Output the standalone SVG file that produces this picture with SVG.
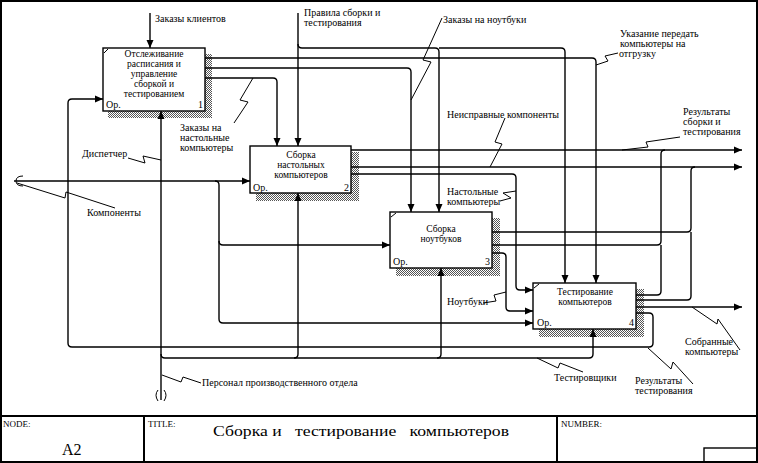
<svg xmlns="http://www.w3.org/2000/svg" width="758" height="463" viewBox="0 0 758 463">
<style>
.t{font-family:"Liberation Serif",serif;font-size:10px;fill:#000}
.tc{font-family:"Liberation Serif",serif;font-size:9.5px;fill:#000;text-anchor:middle}
.box{fill:#fff;stroke:#000;stroke-width:1.4}
.sh{fill:url(#hatch)}
.c{fill:none;stroke:#000;stroke-width:1.4}
.ca{fill:none;stroke:#000;stroke-width:1.4;marker-end:url(#arr)}
.sq{fill:none;stroke:#000;stroke-width:1}
.fr{fill:none;stroke:#000;stroke-width:2}
.small{font-family:"Liberation Serif",serif;font-size:9px;fill:#000}
</style>
<defs>
<pattern id="hatch" width="2" height="2" patternUnits="userSpaceOnUse">
<rect x="0" y="0" width="1" height="1" fill="#555"/>
<rect x="1" y="1" width="1" height="1" fill="#555"/>
</pattern>
<marker id="arr" viewBox="0 0 8 8" refX="8" refY="4" markerWidth="8" markerHeight="8" markerUnits="userSpaceOnUse" orient="auto">
<path d="M0,0.5 L8,4 L0,7.5 z" fill="#000"/>
</marker>
</defs>
<rect x="0" y="0" width="758" height="463" fill="#fff"/>

<g id="frame">
<rect class="fr" x="1" y="1" width="756" height="461"/>
<line class="fr" x1="1" y1="416" x2="757" y2="416"/>
<line class="fr" x1="144" y1="416" x2="144" y2="462"/>
<line class="fr" x1="557" y1="416" x2="557" y2="462"/>
<rect x="704" y="448" width="53" height="14" fill="none" stroke="#000" stroke-width="1.4"/>
<text class="small" x="3" y="427">NODE:</text>
<text x="62" y="455" font-family="Liberation Serif,serif" font-size="16">A2</text>
<text class="small" x="148" y="427">TITLE:</text>
<text x="213" y="436" font-family="Liberation Serif,serif" font-size="14" xml:space="preserve" textLength="296" lengthAdjust="spacingAndGlyphs">Сборка и   тестирование   компьютеров</text>
<text class="small" x="561" y="427">NUMBER:</text>
</g>

<g id="node1">
<rect class="sh" x="205" y="54" width="7" height="64"/>
<rect class="sh" x="108" y="111" width="104" height="7"/>
<rect class="box" x="103" y="48" width="102" height="63"/>
<line x1="104" y1="53" x2="108" y2="49" stroke="#000" stroke-width="1"/>
<text class="tc" x="154" y="57">Отслеживание</text>
<text class="tc" x="154" y="67">расписания и</text>
<text class="tc" x="154" y="77">управление</text>
<text class="tc" x="154" y="87">сборкой и</text>
<text class="tc" x="154" y="97">тестированием</text>
<text class="t" x="106" y="108">Ор.</text>
<text class="t" x="198" y="108">1</text>
</g>

<g id="node2">
<rect class="sh" x="351" y="152" width="8" height="49"/>
<rect class="sh" x="256" y="193" width="103" height="8"/>
<rect class="box" x="250" y="146" width="101" height="47"/>
<text class="tc" x="301" y="158">Сборка</text>
<text class="tc" x="301" y="168">настольных</text>
<text class="tc" x="301" y="178">компьютеров</text>
<text class="t" x="253" y="191">Ор.</text>
<text class="t" x="344" y="191">2</text>
</g>

<g id="node3">
<rect class="sh" x="492" y="218" width="8" height="58"/>
<rect class="sh" x="396" y="268" width="104" height="8"/>
<rect class="box" x="390" y="212" width="102" height="56"/>
<line x1="391" y1="217" x2="396" y2="213" stroke="#000" stroke-width="1"/>
<text class="tc" x="441" y="232">Сборка</text>
<text class="tc" x="441" y="242">ноутбуков</text>
<text class="t" x="393" y="265">Ор.</text>
<text class="t" x="485" y="265">3</text>
</g>

<g id="node4">
<rect class="sh" x="636" y="289" width="8" height="48"/>
<rect class="sh" x="539" y="329" width="105" height="8"/>
<rect class="box" x="533" y="283" width="103" height="46"/>
<line x1="534" y1="288" x2="539" y2="284" stroke="#000" stroke-width="1"/>
<text class="tc" x="585" y="295">Тестирование</text>
<text class="tc" x="585" y="305">компьютеров</text>
<text class="t" x="537" y="326">Ор.</text>
<text class="t" x="629" y="326">4</text>
</g>

<g id="connectors">
<path class="ca" d="M150,13 V48"/>
<path class="ca" d="M298,13 V146"/>
<path class="ca" d="M298,44 Q298,48 302,48 H435 Q439,48 439,52 V212"/>
<path class="ca" d="M439,48 H561 Q565,48 565,52 V283"/>
<path class="ca" d="M205,58 H592 Q596,58 596,62 V283"/>
<path class="ca" d="M205,68 H407 Q411,68 411,72 V212"/>
<path class="ca" d="M205,78 H273 Q277,78 277,82 V146"/>
<path class="ca" d="M636,313 H649 Q653,313 653,317 V343 Q653,347 649,347 H72 Q68,347 68,343 V103 Q68,99 72,99 H103"/>
<path class="ca" d="M161,400 V111"/>
<path class="ca" d="M161,354 Q161,358 165,358 H589 Q593,358 593,354 V329"/>
<path class="ca" d="M294,358 Q298,358 298,354 V193"/>
<path class="ca" d="M437,358 Q441,358 441,354 V268"/>
<path class="ca" d="M14,181 H250"/>
<path class="ca" d="M215,181 Q219,181 219,185 V319 Q219,323 223,323 H533"/>
<path class="ca" d="M219,241 Q219,245 223,245 H390"/>
<path class="ca" d="M351,150 H742"/>
<path class="ca" d="M351,167 H742"/>
<path class="ca" d="M351,174 H512 Q516,174 516,178 V286 Q516,290 520,290 H533"/>
<path class="c" d="M492,232 H687 Q691,232 691,228 V171 Q691,167 695,167"/>
<path class="c" d="M636,300 H687 Q691,300 691,296 V232"/>
<path class="c" d="M492,245 H657 Q661,245 661,241 V154 Q661,150 665,150"/>
<path class="c" d="M636,295 H657 Q661,295 661,291 V245"/>
<path class="ca" d="M492,253 H502 Q506,253 506,257 V307 Q506,311 510,311 H533"/>
<path class="ca" d="M636,307 H742"/>
<path class="sq" d="M23,176 Q16,176 16,181 Q16,186 23,186"/>
<path class="sq" d="M158,390 Q154,395 158,401"/>
<path class="sq" d="M164,390 Q168,395 164,401"/>
<path class="sq" d="M253,78 L240,100 L248,102 L234,123"/>
<path class="sq" d="M442,18 L423,60 L431,62 L411,100"/>
<path class="sq" d="M596,65 L608,61 L605,56 L618,53"/>
<path class="sq" d="M505,118 L495,142 L502,144 L490,167"/>
<path class="sq" d="M622,150 L648,147 L646,142 L680,137"/>
<path class="sq" d="M500,201 L511,198 L503,193 L516,191"/>
<path class="sq" d="M483,303 L496,301 L494,295 L506,292"/>
<path class="sq" d="M128,158 L145,163 L143,156 L161,160"/>
<path class="sq" d="M17,183 L65,198 L66,192 L115,208"/>
<path class="sq" d="M162,375 L181,382 L183,377 L201,383"/>
<path class="sq" d="M537,358 L558,368 L560,363 L583,372"/>
<path class="sq" d="M648,348 L671,369 L673,362 L693,384"/>
<path class="sq" d="M692,307 L717,324 L718,319 L740,350"/>
</g>

<g id="labels">
<text class="t" x="155" y="22">Заказы клиентов</text>
<text class="t" x="304" y="16">Правила сборки и</text>
<text class="t" x="304" y="26">тестирования</text>
<text class="t" x="443" y="23">Заказы на ноутбуки</text>
<text class="t" x="620" y="37">Указание передать</text>
<text class="t" x="620" y="47">компьютеры на</text>
<text class="t" x="619" y="57">отгрузку</text>
<text class="t" x="180" y="131">Заказы на</text>
<text class="t" x="180" y="141">настольные</text>
<text class="t" x="180" y="151">компьютеры</text>
<text class="t" x="82" y="157">Диспетчер</text>
<text class="t" x="87" y="216">Компоненты</text>
<text class="t" x="447" y="118">Неисправные компоненты</text>
<text class="t" x="683" y="115">Результаты</text>
<text class="t" x="683" y="125">сборки и</text>
<text class="t" x="683" y="135">тестирования</text>
<text class="t" x="447" y="195">Настольные</text>
<text class="t" x="447" y="205">компьютеры</text>
<text class="t" x="447" y="305">Ноутбуки</text>
<text class="t" x="202" y="386">Персонал производственного отдела</text>
<text class="t" x="554" y="381">Тестировщики</text>
<text class="t" x="635" y="384">Результаты</text>
<text class="t" x="635" y="394">тестирования</text>
<text class="t" x="685" y="345">Собранные</text>
<text class="t" x="685" y="355">компьютеры</text>
</g>
</svg>
